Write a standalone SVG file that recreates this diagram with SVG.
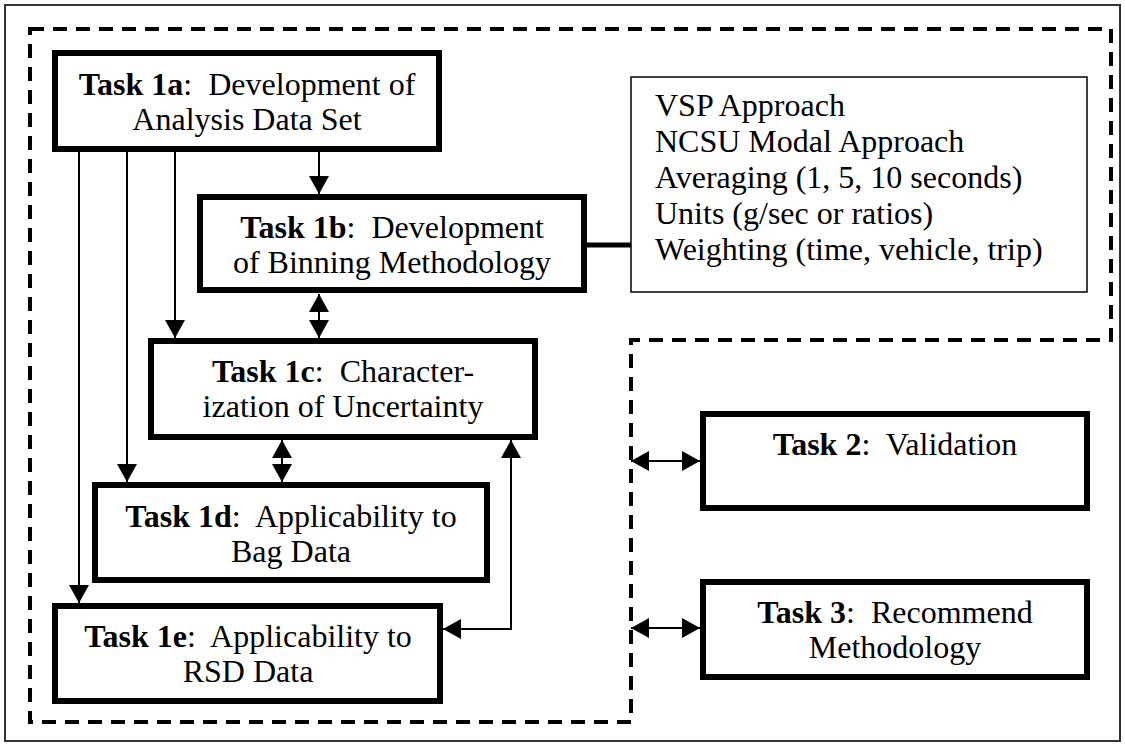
<svg xmlns="http://www.w3.org/2000/svg" width="1125" height="746" viewBox="0 0 1125 746">
<style>
  .frame { fill: none; stroke: #333; stroke-width: 2; }
  .dash { fill: none; stroke: #000; stroke-width: 4; stroke-dasharray: 14 9; }
  .task { fill: #fff; stroke: #000; stroke-width: 6; }
  .list { fill: #fff; stroke: #000; stroke-width: 1.5; }
  .conn { fill: none; stroke: #000; stroke-width: 2; }
  .thick { fill: none; stroke: #000; stroke-width: 5; }
  text { font-family: "Liberation Serif", "Times New Roman", serif; font-size: 32px; fill: #000; }
  .c { text-anchor: middle; }
  .b { font-weight: bold; }
</style>
<defs>
  <marker id="ah" viewBox="0 0 18 20" refX="18" refY="10" markerWidth="18" markerHeight="20" markerUnits="userSpaceOnUse" orient="auto-start-reverse">
    <path d="M0,0 L18,10 L0,20 Z" fill="#000"/>
  </marker>
</defs>
<rect class="frame" x="5" y="5" width="1115" height="736"/>
<path class="dash" d="M30,29 H1111 V340 H631 V722 H30 Z"/>
<g id="connectors">
  <path class="conn" d="M319,152 V194" marker-end="url(#ah)"/>
  <path class="conn" d="M175,152 V338" marker-end="url(#ah)"/>
  <path class="conn" d="M127,152 V482" marker-end="url(#ah)"/>
  <path class="conn" d="M79,152 V603" marker-end="url(#ah)"/>
  <path class="conn" d="M319,294 V338" marker-start="url(#ah)" marker-end="url(#ah)"/>
  <path class="conn" d="M282,440 V482" marker-start="url(#ah)" marker-end="url(#ah)"/>
  <path class="conn" d="M443,629 H511 V440" marker-start="url(#ah)" marker-end="url(#ah)"/>
  <path class="conn" d="M631,461 H700" marker-start="url(#ah)" marker-end="url(#ah)"/>
  <path class="conn" d="M631,628 H700" marker-start="url(#ah)" marker-end="url(#ah)"/>
  <path class="thick" d="M584,245 H631"/>
</g>
<g id="task1a">
  <rect class="task" x="55" y="53" width="384" height="96"/>
  <text class="c" x="247" y="95"><tspan class="b">Task 1a</tspan>:&#160; Development of</text>
  <text class="c" x="247" y="130">Analysis Data Set</text>
</g>
<g id="task1b">
  <rect class="task" x="200" y="197" width="384" height="93"/>
  <text class="c" x="392" y="238"><tspan class="b">Task 1b</tspan>:&#160; Development</text>
  <text class="c" x="392" y="273">of Binning Methodology</text>
</g>
<g id="methods">
  <rect class="list" x="631" y="77" width="456" height="215"/>
  <text x="655" y="116">VSP Approach</text>
  <text x="655" y="152">NCSU Modal Approach</text>
  <text x="655" y="188">Averaging (1, 5, 10 seconds)</text>
  <text x="655" y="224">Units (g/sec or ratios)</text>
  <text x="655" y="260">Weighting (time, vehicle, trip)</text>
</g>
<g id="task1c">
  <rect class="task" x="151" y="341" width="384" height="96"/>
  <text class="c" x="343" y="382"><tspan class="b">Task 1c</tspan>:&#160; Character-</text>
  <text class="c" x="343" y="417">ization of Uncertainty</text>
</g>
<g id="task1d">
  <rect class="task" x="95" y="485" width="392" height="95"/>
  <text class="c" x="291" y="527"><tspan class="b">Task 1d</tspan>:&#160; Applicability to</text>
  <text class="c" x="291" y="562">Bag Data</text>
</g>
<g id="task1e">
  <rect class="task" x="55" y="606" width="385" height="95"/>
  <text class="c" x="248" y="647"><tspan class="b">Task 1e</tspan>:&#160; Applicability to</text>
  <text class="c" x="248" y="682">RSD Data</text>
</g>
<g id="task2">
  <rect class="task" x="703" y="414" width="384" height="94"/>
  <text class="c" x="895" y="455"><tspan class="b">Task 2</tspan>:&#160; Validation</text>
</g>
<g id="task3">
  <rect class="task" x="703" y="582" width="384" height="95"/>
  <text class="c" x="895" y="623"><tspan class="b">Task 3</tspan>:&#160; Recommend</text>
  <text class="c" x="895" y="658">Methodology</text>
</g>
</svg>
